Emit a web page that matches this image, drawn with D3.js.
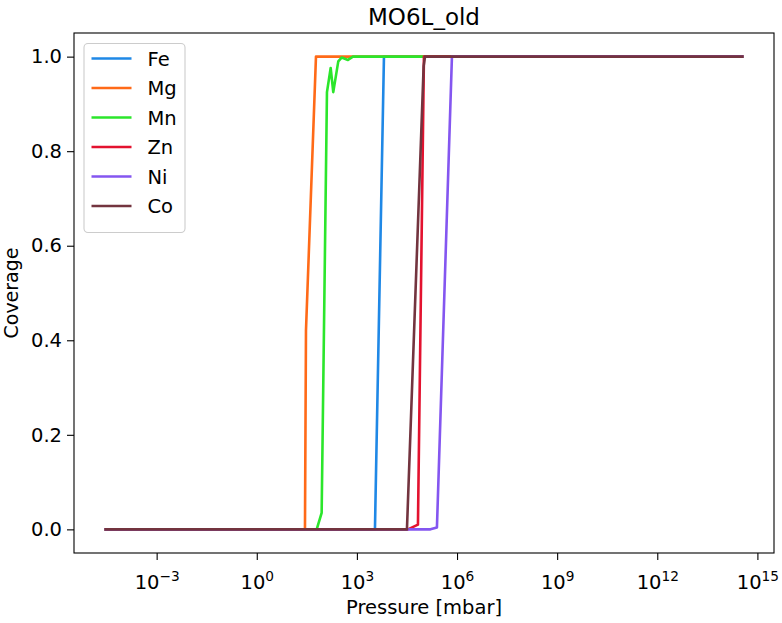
<!DOCTYPE html>
<html>
<head>
<meta charset="utf-8">
<script src="https://cdn.jsdelivr.net/npm/d3@7"></script>
<style>
body { margin: 0; background: #fff; }
text { font-family: "DejaVu Sans", sans-serif; fill: #000; }
</style>
</head>
<body>
<svg id="chart" width="782" height="623"></svg>
<script>

// data (pressure in mbar, coverage 0..1)
var metals = ['Fe', 'Mg', 'Mn', 'Zn', 'Ni', 'Co'];
var colors = ['#1f88e6', '#ff6a18', '#2be62b', '#e3122f', '#8456f0', '#73343f'];

var fe_p = [3e-5, 3475, 6470, 3.5e14];
var fe_cov = [0, 0, 1, 1];

var mg_p = [3e-5, 27.8, 29.8, 59.4, 3.5e14];
var mg_cov = [0, 0, 0.42, 1, 1];

var mn_p = [3e-5, 62.4, 87.9, 126.8, 163.7, 195.9, 276.7, 349, 539.5, 762, 3.5e14];
var mn_cov = [0, 0, 0.035, 0.925, 0.976, 0.925, 0.99, 0.998, 0.993, 1, 1];

var zn_p = [3e-5, 33880, 67500, 102000, 3.5e14];
var zn_cov = [0, 0, 0.01, 1, 1];

var ni_p = [3e-5, 160000, 250000, 704000, 3.5e14];
var ni_cov = [0, 0, 0.004, 1, 1];

var co_p = [3e-5, 31600, 100000, 110000, 3.5e14];
var co_cov = [0, 0, 0.98, 1, 1];

var xTickExps = [-3, 0, 3, 6, 9, 12, 15];
var yTicks = [0, 0.2, 0.4, 0.6, 0.8, 1.0];

var allP = [fe_p, mg_p, mn_p, zn_p, ni_p, co_p];
var allCov = [fe_cov, mg_cov, mn_cov, zn_cov, ni_cov, co_cov];

var mLeft = 74, mTop = 33, mRight = 774, mBottom = 553;

var svg = d3.select('#chart');

// x padding like matplotlib: 5% of log range
var lo = Math.log10(d3.min(allP, a => d3.min(a)));
var hi = Math.log10(d3.max(allP, a => d3.max(a)));
var pad = (hi - lo) * 0.05;

var x = d3.scaleLog()
    .domain([Math.pow(10, lo - pad), Math.pow(10, hi + pad)])
    .range([mLeft, mRight]);

var y = d3.scaleLinear()
    .domain([-0.05, 1.05])
    .range([mBottom, mTop]);

var line = d3.line()
    .x(d => x(d[0]))
    .y(d => y(d[1]));

// curves, in plotting order
metals.forEach(function(m, i) {
    var pts = allP[i].map((p, j) => [p, allCov[i][j]]);
    svg.append('path')
        .datum(pts)
        .attr('d', line)
        .attr('fill', 'none')
        .attr('stroke', colors[i])
        .attr('stroke-width', 2.6)
        .attr('stroke-linejoin', 'round')
        .attr('stroke-linecap', 'square');
});

// x axis
var xAxis = svg.append('g')
    .attr('transform', 'translate(0,' + mBottom + ')')
    .call(d3.axisBottom(x)
        .tickValues(xTickExps.map(e => Math.pow(10, e)))
        .tickSize(7)
        .tickPadding(5)
        .tickFormat(''));

xAxis.selectAll('.tick').each(function(d, i) {
    var t = d3.select(this).append('text')
        .attr('y', 36)
        .attr('text-anchor', 'middle')
        .style('font-size', '19.5px');
    t.append('tspan').text('10');
    t.append('tspan')
        .attr('dy', -8)
        .style('font-size', '13.7px')
        .text(String(xTickExps[i]).replace('-', '\u2212'));
});

// y axis
var yAxis = svg.append('g')
    .attr('transform', 'translate(' + mLeft + ',0)')
    .call(d3.axisLeft(y)
        .tickValues(yTicks)
        .tickSize(7)
        .tickPadding(5)
        .tickFormat(d3.format('.1f')));

yAxis.selectAll('text').style('font-size', '19.5px').attr('font-family', null);

svg.selectAll('.domain').remove();
svg.selectAll('.tick line').attr('stroke', '#000').attr('stroke-width', 1.1);

// frame
svg.append('rect')
    .attr('x', mLeft)
    .attr('y', mTop)
    .attr('width', mRight - mLeft)
    .attr('height', mBottom - mTop)
    .attr('fill', 'none')
    .attr('stroke', '#000')
    .attr('stroke-width', 1.1);

// labels
svg.append('text')
    .attr('x', (mLeft + mRight) / 2)
    .attr('y', 25)
    .attr('text-anchor', 'middle')
    .style('font-size', '23px')
    .text('MO6L_old');

svg.append('text')
    .attr('x', (mLeft + mRight) / 2)
    .attr('y', 614)
    .attr('text-anchor', 'middle')
    .style('font-size', '19.5px')
    .text('Pressure [mbar]');

svg.append('text')
    .attr('transform', 'translate(18,' + (mTop + mBottom) / 2 + ') rotate(-90)')
    .attr('text-anchor', 'middle')
    .style('font-size', '19px')
    .text('Coverage');

// legend
var legend = svg.append('g');

legend.append('rect')
    .attr('x', 84)
    .attr('y', 43.5)
    .attr('width', 101)
    .attr('height', 189)
    .attr('rx', 4)
    .attr('fill', '#fff')
    .attr('fill-opacity', 0.8)
    .attr('stroke', '#cccccc')
    .attr('stroke-width', 1.1);

var rows = legend.selectAll('g.row')
    .data(metals)
    .enter()
    .append('g')
    .attr('class', 'row')
    .attr('transform', (d, i) => 'translate(0,' + (58.5 + i * 29.5) + ')');

rows.append('line')
    .attr('x1', 91.5)
    .attr('x2', 131.5)
    .attr('stroke', (d, i) => colors[i])
    .attr('stroke-width', 2.6);

rows.append('text')
    .attr('x', 147.5)
    .attr('dy', '0.36em')
    .style('font-size', '19.5px')
    .text(d => d);

</script>
</body>
</html>
